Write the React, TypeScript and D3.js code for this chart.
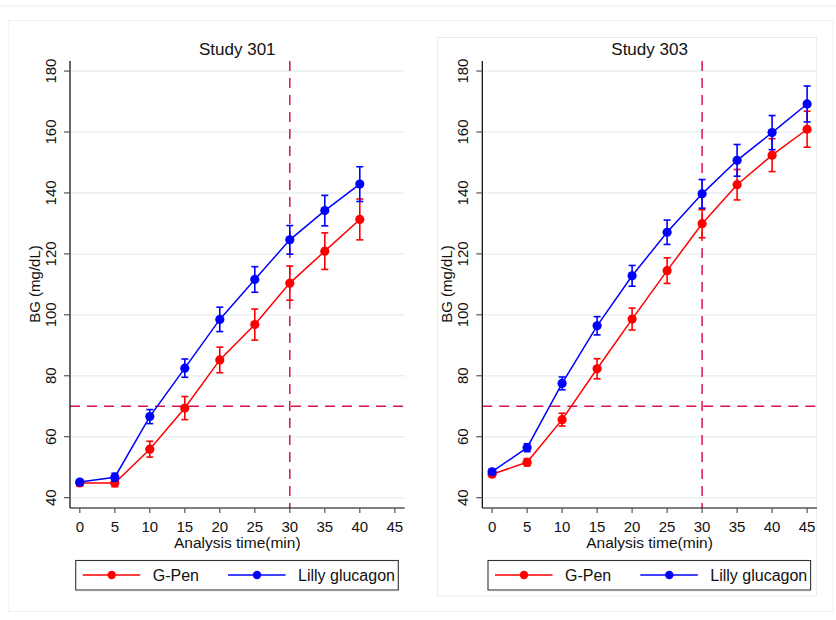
import React from 'react';
import * as d3 from 'd3';

const times301 = [0, 5, 10, 15, 20, 25, 30, 35, 40];
const gpen301 = [44.8, 44.8, 55.9, 69.4, 85.2, 96.8, 110.4, 120.9, 131.3];
const gpen301Err = [1.0, 1.2, 2.6, 3.8, 4.2, 5.1, 5.6, 6.0, 6.7];
const lilly301 = [45.1, 46.7, 66.6, 82.5, 98.5, 111.6, 124.6, 134.2, 142.9];
const lilly301Err = [0.8, 1.3, 2.3, 3.0, 4.0, 4.2, 4.7, 5.0, 5.7];

const times303 = [0, 5, 10, 15, 20, 25, 30, 35, 40, 45];
const gpen303 = [47.7, 51.6, 65.6, 82.3, 98.6, 114.5, 129.9, 142.7, 152.4, 160.9];
const gpen303Err = [0.8, 1.2, 2.1, 3.3, 3.6, 4.2, 4.6, 5.0, 5.4, 5.9];
const lilly303 = [48.5, 56.4, 77.5, 96.4, 112.8, 127.1, 139.7, 150.7, 159.8, 169.2];
const lilly303Err = [0.8, 1.3, 2.1, 3.0, 3.4, 4.0, 4.7, 5.2, 5.6, 5.9];

const xTicks = [0, 5, 10, 15, 20, 25, 30, 35, 40, 45];
const yTicks = [40, 60, 80, 100, 120, 140, 160, 180];
const seriesNames = ['G-Pen', 'Lilly glucagon'];
const seriesColors = ['#ff0000', '#0000ff'];
const refTime = 30;
const refBG = 70;

const FONT = '"Liberation Sans", Arial, Helvetica, sans-serif';
const REF_COLOR = '#d4164a';

type PanelProps = {
  left: number;
  title: string;
  times: number[];
  values: number[][];
  errs: number[][];
};

const Panel = ({ left, title, times, values, errs }: PanelProps) => {
  const x = d3.scaleLinear().domain([-1.4, 46.4]).range([left, left + 334.6]);
  const y = d3.scaleLinear().domain([36.6, 183.3]).range([508, 61]);
  const [x0, x1] = x.range();
  const [yb, yt] = y.range();

  const line = d3.line<[number, number]>()
    .x(d => x(d[0]))
    .y(d => y(d[1]));

  const midX = (x(0) + x(45)) / 2;
  const legendLeft = left + 5.7;

  return (
    <g>
      <text x={midX} y={55} textAnchor="middle" fontSize={17} fill="#111">{title}</text>

      {/* grid */}
      {yTicks.map(t => (
        <line key={'g' + t} x1={x0} x2={x1} y1={y(t)} y2={y(t)} stroke="#e9eff2" strokeWidth={1.5} />
      ))}

      {/* reference lines */}
      <line x1={x0} x2={x1} y1={y(refBG)} y2={y(refBG)} stroke={REF_COLOR} strokeWidth={1.5} strokeDasharray="10,7" />
      <line x1={x(refTime)} x2={x(refTime)} y1={yt} y2={yb} stroke={REF_COLOR} strokeWidth={1.5} strokeDasharray="10,7" />

      {/* axes */}
      <line x1={x0} x2={x0} y1={yt} y2={yb} stroke="#000" strokeWidth={1.2} />
      <line x1={x0} x2={x1} y1={yb} y2={yb} stroke="#000" strokeWidth={1.2} />
      {yTicks.map(t => (
        <g key={'yt' + t}>
          <line x1={x0 - 6} x2={x0} y1={y(t)} y2={y(t)} stroke="#555" strokeWidth={1.2} />
          <text transform={`translate(${x0 - 14.5},${y(t)}) rotate(-90)`} textAnchor="middle" fontSize={15} fill="#111">{t}</text>
        </g>
      ))}
      {xTicks.map(t => (
        <g key={'xt' + t}>
          <line x1={x(t)} x2={x(t)} y1={yb} y2={yb + 5} stroke="#555" strokeWidth={1.2} />
          <text x={x(t)} y={531.5} textAnchor="middle" fontSize={15} fill="#111">{t}</text>
        </g>
      ))}
      <text transform={`translate(${x0 - 30},284) rotate(-90)`} textAnchor="middle" fontSize={15} fill="#111">BG (mg/dL)</text>
      <text x={midX} y={548} textAnchor="middle" fontSize={15.5} fill="#111">Analysis time(min)</text>

      {/* series */}
      {values.map((vals, si) => {
        const pts: [number, number][] = times.map((t, i) => [t, vals[i]]);
        const col = seriesColors[si];
        return (
          <g key={'s' + si}>
            <path d={line(pts) || ''} fill="none" stroke={col} strokeWidth={1.5} />
            {pts.map(([t, v], i) => (
              <circle key={i} cx={x(t)} cy={y(v)} r={4.6} fill={col} />
            ))}
            {pts.map(([t, v], i) => {
              const e = errs[si][i];
              const cx = x(t);
              return (
                <g key={'e' + i} stroke={col} strokeWidth={1.6}>
                  <line x1={cx} x2={cx} y1={y(v + e)} y2={y(v - e)} />
                  <line x1={cx - 3.5} x2={cx + 3.5} y1={y(v + e)} y2={y(v + e)} />
                  <line x1={cx - 3.5} x2={cx + 3.5} y1={y(v - e)} y2={y(v - e)} />
                </g>
              );
            })}
          </g>
        );
      })}

      {/* legend */}
      <rect x={legendLeft} y={560.5} width={322.6} height={29.5} fill="#fff" stroke="#333" strokeWidth={1.1} />
      <line x1={legendLeft + 1} x2={legendLeft + 323} y1={590.6} y2={590.6} stroke="#999" strokeWidth={1} />
      {seriesNames.map((name, i) => {
        const off = legendLeft + i * 145.3;
        return (
          <g key={name}>
            <line x1={off + 7} x2={off + 64.5} y1={575} y2={575} stroke={seriesColors[i]} strokeWidth={1.5} />
            <circle cx={off + 36} cy={575} r={4.2} fill={seriesColors[i]} />
            <text x={off + 77} y={581} fontSize={16} fill="#111">{name}</text>
          </g>
        );
      })}
    </g>
  );
};

const App = () => {
  return (
    <svg width={836} height={620} style={{ position: 'absolute', left: 0, top: 0, background: '#fff' }} fontFamily={FONT}>
      <rect x={0} y={0} width={836} height={620} fill="#fff" />
      <line x1={0} x2={836} y1={6} y2={6} stroke="#e6eded" strokeWidth={1} />
      <rect x={8.5} y={20.5} width={824} height={591} fill="none" stroke="#f0f4f4" strokeWidth={1} />
      <rect x={437.5} y={37.5} width={379} height={558.5} fill="none" stroke="#e6eded" strokeWidth={1} />
      <Panel left={70} title="Study 301" times={times301} values={[gpen301, lilly301]} errs={[gpen301Err, lilly301Err]} />
      <Panel left={482.3} title="Study 303" times={times303} values={[gpen303, lilly303]} errs={[gpen303Err, lilly303Err]} />
    </svg>
  );
};

export default App;
